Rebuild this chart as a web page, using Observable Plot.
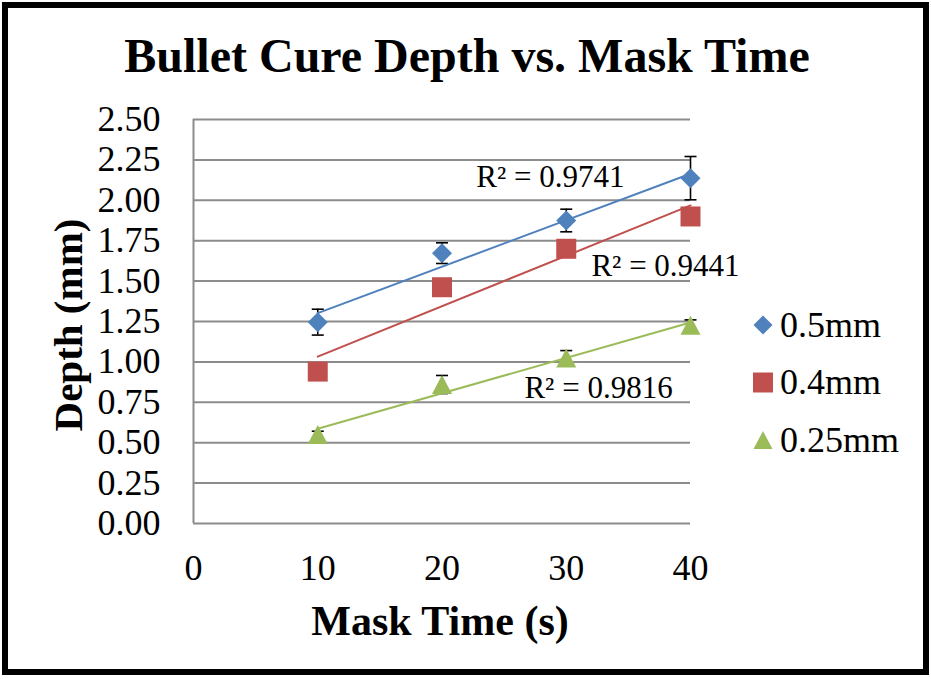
<!DOCTYPE html>
<html><head><meta charset="utf-8">
<script src="https://cdn.jsdelivr.net/npm/d3@7"></script>
<script src="https://cdn.jsdelivr.net/npm/@observablehq/plot@0.6"></script>
<style>
html,body{margin:0;padding:0;background:#fff;}
#wrap{position:relative;width:931px;height:679px;overflow:hidden;background:#fff;}
#frame{position:absolute;left:2px;top:2px;width:927px;height:673px;border:6px solid #000;box-sizing:border-box;pointer-events:none;}
</style></head><body>
<div id="wrap"><div id="chart"></div><div id="frame"></div></div>
<script>
// ---- data ----
const maskTimes = [10, 20, 30, 40];
const seriesNames = ["0.5mm", "0.4mm", "0.25mm"];
const depth05 = [1.246, 1.673, 1.875, 2.137];
const err05 = [0.08, 0.064, 0.07, 0.134];
const depth04 = [0.94, 1.462, 1.70, 1.90];
const depth025 = [0.551, 0.860, 1.024, 1.227];
const err025 = [0.02, 0.056, 0.046, 0.033];
const xTicks = [0, 10, 20, 30, 40];
const yTicks = [0, 0.25, 0.5, 0.75, 1.0, 1.25, 1.5, 1.75, 2.0, 2.25, 2.5];
const r2Labels = ["R² = 0.9741", "R² = 0.9441", "R² = 0.9816"];
const r2LabelX = [28.73, 37.99, 32.6];
const r2LabelY = [2.145, 1.594, 0.837];
const titleText = "Bullet Cure Depth vs. Mask Time";
const xTitle = "Mask Time (s)";
const yTitle = "Depth (mm)";

// ---- styles ----
const colors = ["#4F81BD", "#C0504D", "#9BBB59"];
const font = "'Liberation Serif', 'Times New Roman', serif";

// custom symbols (size -> r via sqrt(size/PI))
const rOf = s => Math.sqrt(s / Math.PI);
const diamondSym = {draw(c, s) {const r = rOf(s); c.moveTo(0, -r); c.lineTo(r, 0); c.lineTo(0, r); c.lineTo(-r, 0); c.closePath();}};
const squareSym = {draw(c, s) {const r = rOf(s); c.moveTo(-r, -r); c.lineTo(r, -r); c.lineTo(r, r); c.lineTo(-r, r); c.closePath();}};
const triangleSym = {draw(c, s) {const r = rOf(s); const h = r * 0.95; c.moveTo(0, -h); c.lineTo(r, h); c.lineTo(-r, h); c.closePath();}};
const capSym = {draw(c, s) {const r = rOf(s); c.moveTo(-r, 0); c.lineTo(r, 0);}};
const symbols = [diamondSym, squareSym, triangleSym];

const depthSeries = [depth05, depth04, depth025];
const errSeries = [err05, null, err025];
const rows = [];
depthSeries.forEach((arr, si) => arr.forEach((v, i) => rows.push({
  series: seriesNames[si], si, x: maskTimes[i], y: v,
  e: errSeries[si] ? errSeries[si][i] : null
})));
const errRows = rows.filter(d => d.e != null);
const r2Rows = r2Labels.map((t, i) => ({t, x: r2LabelX[i], y: r2LabelY[i]}));

const marks = [
  Plot.gridY(yTicks, {stroke: "#8c8c8c", strokeOpacity: 1, strokeWidth: 2}),
  Plot.ruleX([0], {stroke: "#8c8c8c", strokeWidth: 2}),
  Plot.ruleX(errRows, {x: "x", y1: d => d.y - d.e, y2: d => d.y + d.e, stroke: "#000", strokeWidth: 1.6}),
  Plot.dot(errRows, {x: "x", y: d => d.y - d.e, symbol: capSym, r: 6, stroke: "#000", strokeWidth: 1.6, fill: "none"}),
  Plot.dot(errRows, {x: "x", y: d => d.y + d.e, symbol: capSym, r: 6, stroke: "#000", strokeWidth: 1.6, fill: "none"})
];
seriesNames.forEach((name, si) => {
  const data = rows.filter(d => d.si === si);
  marks.push(Plot.dot(data, {x: "x", y: "y", symbol: symbols[si], r: 10, fill: colors[si], stroke: "none"}));
});
seriesNames.forEach((name, si) => {
  const data = rows.filter(d => d.si === si);
  marks.push(Plot.linearRegressionY(data, {x: "x", y: "y", stroke: colors[si], strokeWidth: 2, ci: 0}));
});
marks.push(Plot.text(r2Rows, {x: "x", y: "y", text: "t", fontSize: 31, fill: "#000", textAnchor: "middle"}));

const plot = Plot.plot({
  width: 931, height: 679,
  marginLeft: 193, marginRight: 241, marginTop: 119, marginBottom: 156,
  style: {fontFamily: font, fontSize: "36px", color: "#000", background: "#fff", overflow: "visible"},
  x: {domain: [0, 40], ticks: xTicks, tickFormat: d => String(d), tickSize: 0, tickPadding: 31, label: null},
  y: {domain: [0, 2.5], ticks: yTicks, tickFormat: d3.format(".2f"), tickSize: 0, tickPadding: 33, label: null},
  marks
});
document.getElementById("chart").appendChild(plot);

const svg = d3.select(plot);
svg.append("text").attr("x", 467).attr("y", 72).attr("text-anchor", "middle")
  .attr("font-family", font).attr("font-weight", "bold").attr("font-size", 48).attr("fill", "#000").text(titleText);
svg.append("text").attr("x", 440).attr("y", 635).attr("text-anchor", "middle")
  .attr("font-family", font).attr("font-weight", "bold").attr("font-size", 42).attr("fill", "#000").text(xTitle);
svg.append("text").attr("transform", "translate(82,325) rotate(-90)").attr("text-anchor", "middle")
  .attr("font-family", font).attr("font-weight", "bold").attr("font-size", 41).attr("fill", "#000").text(yTitle);

// legend
const legendR = [9.5, 10, 9.5];
seriesNames.forEach((name, si) => {
  const g = svg.append("g").attr("transform", `translate(763,${325 + si * 57.5})`);
  g.append("path").attr("d", d3.symbol(symbols[si], Math.PI * legendR[si] * legendR[si])()).attr("fill", colors[si]);
  g.append("text").attr("x", 17).attr("dy", "0.32em").attr("text-anchor", "start")
    .attr("font-family", font).attr("font-size", 36).attr("fill", "#000").text(name);
});
</script>
</body></html>
